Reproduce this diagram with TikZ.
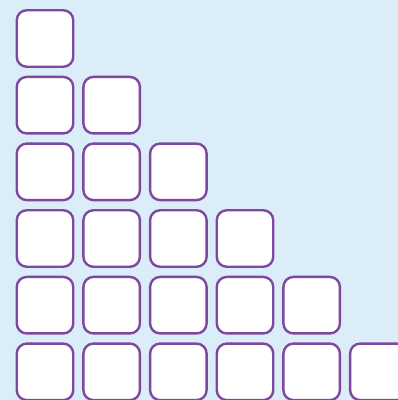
\documentclass[tikz,border=0pt]{standalone}
\usepackage{tikz}

\definecolor{skyblue}{RGB}{219,237,249}
\definecolor{boxpurple}{RGB}{125,72,158}

\begin{document}
\begin{tikzpicture}[x=1pt, y=-1pt,
    cell/.style={draw=boxpurple, fill=white, line width=2.4pt, rounded corners=10pt,
                 minimum width=56.5pt, minimum height=56.5pt, inner sep=0pt}]
% Background and frame
\fill[skyblue] (0,0) rectangle (398,400);
\useasboundingbox (0,0) rectangle (398,400);
\clip (0,0) rectangle (398,400);

% Staircase of boxes: row r holds r boxes
\foreach \r in {1,...,6}{
  \foreach \c in {1,...,\r}{
    \node[cell] (cell-\r-\c) at ({45+66.67*(\c-1)}, {38.5+66.67*(\r-1)}) {};
  }
}
\end{tikzpicture}
\end{document}
